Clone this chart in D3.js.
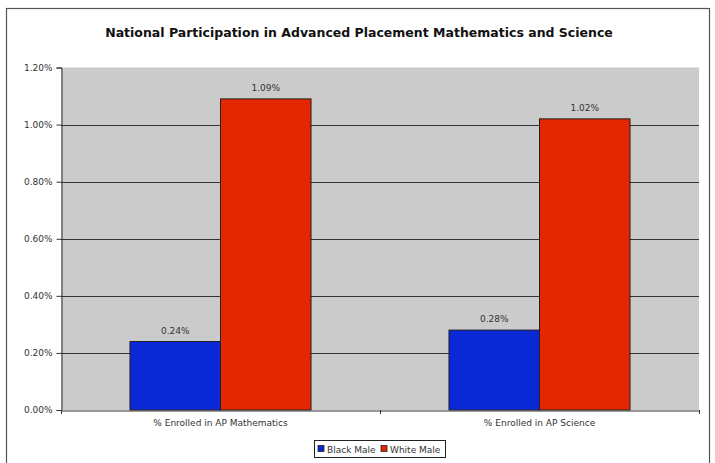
<!DOCTYPE html>
<html><head><meta charset="utf-8">
<script src="https://cdn.jsdelivr.net/npm/d3@7"></script>
<style>body{margin:0;background:#fff}svg{display:block}text{font-family:"DejaVu Sans",Verdana,sans-serif}</style>
</head><body>
<script>
const categories = ["% Enrolled in AP Mathematics", "% Enrolled in AP Science"];
const seriesNames = ["Black Male", "White Male"];
const blackMale = [0.24, 0.28];
const whiteMale = [1.09, 1.02];
const yTicks = [0, 0.2, 0.4, 0.6, 0.8, 1.0, 1.2];
const colors = ["#0A28D6", "#E42700"];
const seriesValues = [blackMale, whiteMale];

const W = 715, H = 463;
const svg = d3.select("body").append("svg").attr("width", W).attr("height", H);

svg.append("rect").attr("x", 6.5).attr("y", 8.5).attr("width", 703).attr("height", 470)
  .attr("fill", "#fff").attr("stroke", "#555").attr("stroke-width", 1.2);

svg.append("text").attr("x", 359).attr("y", 36.5).attr("text-anchor", "middle")
  .attr("font-size", 12.5).attr("font-weight", "bold").attr("fill", "#111")
  .text("National Participation in Advanced Placement Mathematics and Science");

const pL = 61, pR = 699, pT = 67.5, pB = 410;
const y = d3.scaleLinear().domain([0, 1.2]).range([pB, pT]);
const x0 = d3.scaleBand().domain(categories).range([pL, pR]).padding(0);
const x1 = d3.scaleBand().domain(seriesNames).range([0, x0.bandwidth()]).paddingInner(0).paddingOuter(0.762);

svg.append("rect").attr("x", pL).attr("y", pT).attr("width", pR - pL).attr("height", pB - pT)
  .attr("fill", "#CBCBCB");

svg.append("g").selectAll("line").data(yTicks.filter(d => d > 0 && d < 1.2)).join("line")
  .attr("x1", pL).attr("x2", pR).attr("y1", d => Math.round(y(d)) + 0.5).attr("y2", d => Math.round(y(d)) + 0.5)
  .attr("stroke", "#333").attr("stroke-width", 1);

const yAxis = svg.append("g").attr("transform", `translate(${pL + 0.5},0)`)
  .call(d3.axisLeft(y).tickValues(yTicks).tickSize(5).tickPadding(4).tickFormat(d => d.toFixed(2) + "%"));
yAxis.select(".domain").attr("stroke", "#333");
yAxis.selectAll("line").attr("stroke", "#333");
yAxis.selectAll("text").attr("font-size", 9).attr("fill", "#333").attr("font-family", '"DejaVu Sans",Verdana,sans-serif');

const groups = svg.append("g").selectAll("g").data(categories).join("g")
  .attr("transform", d => `translate(${x0(d)},0)`);
groups.selectAll("rect").data((d, i) => seriesNames.map((s, j) => ({ s, v: seriesValues[j][i], j }))).join("rect")
  .attr("x", d => x1(d.s)).attr("y", d => y(d.v)).attr("width", x1.bandwidth()).attr("height", d => pB - y(d.v))
  .attr("fill", d => colors[d.j]).attr("stroke", "#222").attr("stroke-width", 1);
groups.selectAll("text.lbl").data((d, i) => seriesNames.map((s, j) => ({ s, v: seriesValues[j][i], j }))).join("text")
  .attr("class", "lbl").attr("x", d => x1(d.s) + x1.bandwidth() / 2).attr("y", d => y(d.v) - 8)
  .attr("text-anchor", "middle").attr("font-size", 9).attr("fill", "#333")
  .text(d => d.v.toFixed(2) + "%");

const xAxis = svg.append("g").attr("transform", `translate(0,${pB + 0.5})`)
  .call(d3.axisBottom(x0).tickSize(0).tickPadding(9));
xAxis.select(".domain").attr("stroke", "#333");
xAxis.selectAll("text").attr("font-size", 9).attr("fill", "#333").attr("font-family", '"DejaVu Sans",Verdana,sans-serif');
svg.append("g").selectAll("line").data([pL, (pL + pR) / 2, pR]).join("line")
  .attr("x1", d => Math.round(d) + 0.5).attr("x2", d => Math.round(d) + 0.5).attr("y1", pB).attr("y2", pB + 4)
  .attr("stroke", "#333");

const lg = svg.append("g").attr("transform", "translate(314,440)");
lg.append("rect").attr("x", 0.5).attr("y", 0.5).attr("width", 131).attr("height", 17).attr("fill", "#fff").attr("stroke", "#222");
const items = lg.selectAll("g").data(seriesNames).join("g").attr("transform", (d, i) => `translate(${4 + i * 63},0)`);
items.append("rect").attr("x", 0).attr("y", 5.5).attr("width", 6).attr("height", 6).attr("fill", (d, i) => colors[i]).attr("stroke", "#222").attr("stroke-width", 0.8);
items.append("text").attr("x", 9).attr("y", 12.5).attr("font-size", 9).attr("fill", "#333").text(d => d);
</script>
</body></html>
